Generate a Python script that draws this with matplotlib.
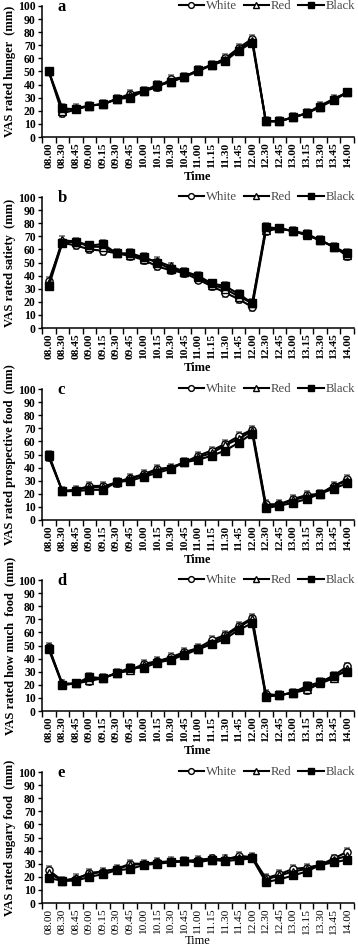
#!/usr/bin/env python3
"""VAS ratings over time for white, red and black plates (five panels)."""

import matplotlib
matplotlib.use("Agg")
import matplotlib.pyplot as plt

times = ["08.00", "08.30", "08.45", "09.00", "09.15", "09.30", "09.45", "10.00",
         "10.15", "10.30", "10.45", "11.00", "11.15", "11.30", "11.45", "12.00",
         "12.30", "12.45", "13.00", "13.15", "13.30", "13.45", "14.00"]

hunger_white = [50, 18, 21, 24, 25, 29, 33, 35, 38, 44, 46, 51, 55, 60, 68, 75, 12, 12, 15, 18, 24, 29, 34]
hunger_red = [50, 20, 22, 24, 25, 29, 32, 35, 39, 42, 46, 50, 55, 59, 67, 73, 12, 12, 15, 18, 23, 29, 34]
hunger_black = [50, 22, 21, 24, 25, 29, 30, 35, 40, 42, 46, 51, 55, 58, 66, 72, 12, 12, 15, 18, 23, 28, 34]

satiety_white = [36, 65, 63, 60, 59, 57, 55, 52, 47, 44, 42, 37, 32, 27, 22, 16, 74, 76, 74, 71, 67, 62, 55]
satiety_red = [34, 67, 66, 62, 62, 57, 56, 53, 51, 47, 43, 39, 33, 30, 24, 19, 75, 76, 74, 71, 67, 62, 56]
satiety_black = [32, 65, 66, 63, 64, 57, 57, 54, 50, 45, 43, 40, 34, 32, 26, 19, 77, 76, 74, 72, 67, 62, 57]

prospective_white = [48, 22, 23, 26, 26, 28, 32, 35, 39, 40, 44, 49, 53, 58, 64, 69, 12, 12, 16, 19, 20, 26, 31]
prospective_red = [49, 22, 23, 25, 25, 29, 32, 34, 38, 40, 44, 48, 51, 57, 62, 68, 11, 12, 15, 18, 20, 26, 30]
prospective_black = [50, 22, 22, 23, 23, 29, 30, 33, 36, 39, 44, 46, 49, 53, 59, 66, 9, 11, 13, 16, 20, 24, 28]

howmuch_white = [49, 20, 21, 23, 25, 29, 31, 36, 38, 41, 45, 48, 54, 58, 65, 71, 13, 12, 14, 16, 21, 27, 34]
howmuch_red = [48, 21, 21, 24, 25, 29, 31, 35, 38, 40, 44, 47, 52, 57, 64, 70, 12, 12, 14, 17, 21, 25, 32]
howmuch_black = [47, 20, 21, 26, 25, 29, 33, 33, 37, 39, 43, 47, 51, 55, 62, 67, 11, 12, 14, 19, 22, 27, 30]

sugary_white = [25, 17, 18, 23, 24, 26, 30, 30, 31, 31, 32, 33, 34, 33, 36, 35, 19, 22, 26, 27, 29, 34, 39]
sugary_red = [23, 17, 19, 22, 24, 26, 29, 30, 31, 32, 32, 32, 33, 34, 34, 35, 18, 21, 24, 26, 29, 33, 36]
sugary_black = [19, 17, 17, 20, 22, 25, 26, 29, 30, 31, 32, 31, 33, 32, 33, 34, 16, 18, 21, 24, 29, 31, 33]

sem = 3  # approximate SEM shown by the error bars

panels = [
    ("a", "VAS rated hunger  (mm)", hunger_white, hunger_red, hunger_black),
    ("b", "VAS rated satiety  (mm)", satiety_white, satiety_red, satiety_black),
    ("c", "VAS rated prospective food  (mm)", prospective_white, prospective_red, prospective_black),
    ("d", "VAS rated how much  food  (mm)", howmuch_white, howmuch_red, howmuch_black),
    ("e", "VAS rated sugary food  (mm)", sugary_white, sugary_red, sugary_black),
]

plt.rcParams["font.family"] = ["Liberation Serif", "DejaVu Serif"]

W, H = 358, 947
fig = plt.figure(figsize=(W / 100, H / 100), dpi=100)

tops = [6, 197, 389, 580, 772]
ax_left, ax_right, ax_h = 42, 354, 131

styles = [
    ("White", "o", "white", 1),
    ("Red", "^", "white", 2),
    ("Black", "s", "black", 3),
]

xs = list(range(len(times)))

for i, (top, (letter, ylabel, white, red, black)) in enumerate(zip(tops, panels)):
    last = i == len(panels) - 1
    xweight = "normal" if last else "bold"
    ax = fig.add_axes([ax_left / W, 1 - (top + ax_h) / H, (ax_right - ax_left) / W, ax_h / H])
    ax.patch.set_alpha(0)
    for (name, marker, face, z), vals in zip(styles, [white, red, black]):
        ax.errorbar(xs, vals, yerr=sem, fmt="none", ecolor="#8a8a8a", elinewidth=1.4,
                    capsize=2.5, capthick=1.4, zorder=z)
        ax.plot(xs, vals, color="black", lw=1.5, marker=marker, markersize=5.2,
                markerfacecolor=face, markeredgecolor="black", markeredgewidth=1.0,
                label=name, zorder=z + 3)

    ax.set_xlim(-0.5, len(times) - 0.5)
    ax.set_ylim(0, 100)
    ax.set_yticks(range(0, 101, 10))
    ax.set_xticks(xs)
    ax.set_xticklabels(times, rotation=90, fontsize=8.2, fontweight=xweight)
    ax.set_xticks([x - 0.5 for x in range(len(times) + 1)], minor=True)
    ax.tick_params(axis="x", which="major", length=0, pad=4)
    ax.tick_params(axis="x", which="minor", length=4, width=1, direction="out")
    ax.tick_params(axis="y", length=3, width=1, labelsize=8.4, pad=1.5)
    for lbl in ax.get_yticklabels():
        lbl.set_fontweight("bold")
    for side in ("top", "right"):
        ax.spines[side].set_visible(False)
    for side in ("left", "bottom"):
        ax.spines[side].set_linewidth(1.1)

    ax.set_ylabel(ylabel, fontsize=9, fontweight="bold", labelpad=1.5)
    ax.set_xlabel("Time", fontsize=9, fontweight=xweight, labelpad=0.5 if last else 2)
    ax.text(0.05, 0.965, letter, transform=ax.transAxes, fontsize=12, fontweight="bold",
            va="baseline", ha="left")

    leg = ax.legend(loc="center right", bbox_to_anchor=(1.02, 1.0), ncol=3, frameon=False,
                    fontsize=9.2, handlelength=2.0, handletextpad=0.15, columnspacing=0.5,
                    borderaxespad=0, markerscale=0.8)
    for t in leg.get_texts():
        t.set_color("#4a4a4a")

fig.savefig("out.png", dpi=100)
